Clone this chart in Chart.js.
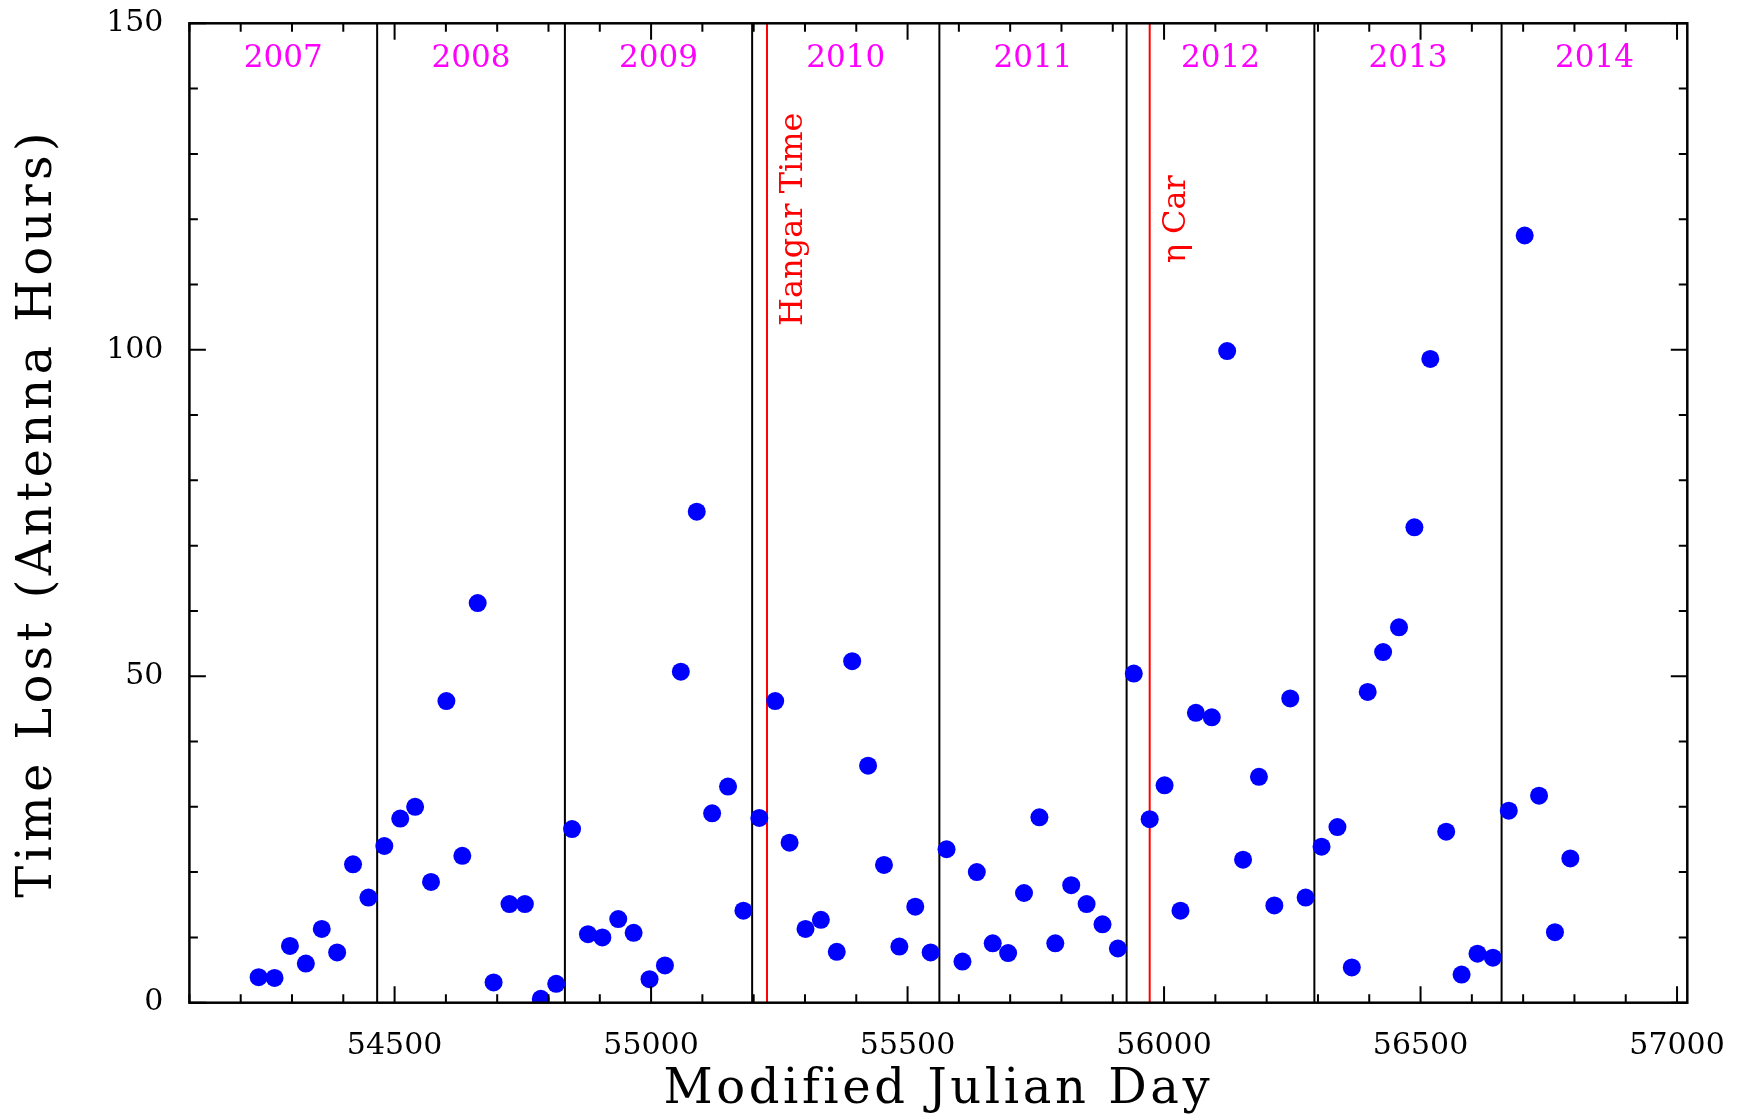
<!DOCTYPE html>
<html lang="en">

<head>
    <meta charset="UTF-8">
    <title>Time Lost (Antenna Hours)</title>
    <style>
        body {
            margin: 0;
            background: white;
            overflow: hidden;
        }

        .chart-container {
            width: 1737px;
            height: 1116px;
        }
    </style>
</head>

<body>
    <div class="chart-container">
        <canvas id="lossChart"></canvas>
    </div>

    <script src="https://cdn.jsdelivr.net/npm/chart.js"></script>
    <script>
        // one point per month, placed at the middle of the month (MJD)
        const mjd = [
            54235, 54266, 54296, 54327, 54358, 54388, 54419, 54449,
            54480, 54511, 54540, 54571, 54601, 54632, 54662, 54693, 54724, 54754, 54785, 54815,
            54846, 54877, 54905, 54936, 54966, 54997, 55027, 55058, 55089, 55119, 55150, 55180,
            55211, 55242, 55270, 55301, 55331, 55362, 55392, 55423, 55454, 55484, 55515, 55545,
            55576, 55607, 55635, 55666, 55696, 55727, 55757, 55788, 55819, 55849, 55880, 55910,
            55941, 55972, 56001, 56032, 56062, 56093, 56123, 56154, 56185, 56215, 56246, 56276,
            56307, 56338, 56366, 56397, 56427, 56458, 56488, 56519, 56550, 56580, 56611, 56641,
            56672, 56703, 56731, 56762, 56792
        ];
        const hoursLost = [
            3.9, 3.8, 8.7, 6.0, 11.3, 7.7, 21.2, 16.1,
            24.0, 28.2, 30.0, 18.5, 46.2, 22.5, 61.2, 3.1, 15.1, 15.1, 0.6, 2.9,
            26.6, 10.5, 10.0, 12.8, 10.7, 3.6, 5.7, 50.7, 75.2, 29.0, 33.1, 14.1,
            28.3, 46.2, 24.5, 11.3, 12.7, 7.8, 52.3, 36.3, 21.1, 8.6, 14.7, 7.7,
            23.5, 6.3, 20.0, 9.1, 7.6, 16.8, 28.4, 9.1, 18.0, 15.1, 12.0, 8.3,
            50.4, 28.1, 33.3, 14.1, 44.4, 43.7, 99.8, 21.9, 34.6, 14.9, 46.6, 16.1,
            23.9, 26.9, 5.4, 47.6, 53.7, 57.5, 72.8, 98.6, 26.2, 4.3, 7.5, 6.9,
            29.4, 117.5, 31.7, 10.8, 22.1
        ];

        // Jan 1 of 2008..2014
        const yearStarts = [54466, 54832, 55197, 55562, 55927, 56293, 56658];
        const yearLabels = ['2007', '2008', '2009', '2010', '2011', '2012', '2013', '2014'];

        const eventDays = [55226, 55972];
        const eventLabels = ['Hangar Time', 'η Car'];

        const xTickLabels = [54500, 55000, 55500, 56000, 56500, 57000];
        const yTickLabels = [0, 50, 100, 150];

        const serif = "'DejaVu Serif', serif";

        // wider letter spacing for the axis titles (closer to the original plot font)
        const titleSpacing = {
            id: 'titleSpacing',
            beforeDraw(chart) {
                Object.values(chart.scales).forEach(s => {
                    if (s._spaced) return;
                    const orig = s.drawTitle;
                    const gap = s.axis === 'x' ? '3.6px' : '4.3px';
                    s.drawTitle = function () {
                        this.ctx.save();
                        this.ctx.letterSpacing = gap;
                        orig.apply(this, arguments);
                        this.ctx.restore();
                    };
                    s._spaced = true;
                });
            }
        };

        // year separators, event lines and their labels
        const markers = {
            id: 'markers',
            beforeDatasetsDraw(chart) {
                const { ctx, chartArea: a, scales: { x, y } } = chart;
                ctx.save();
                ctx.beginPath();
                ctx.rect(a.left, a.top, a.right - a.left, a.bottom - a.top);
                ctx.clip();

                ctx.strokeStyle = 'black';
                ctx.lineWidth = 2;
                yearStarts.forEach(d => {
                    const px = x.getPixelForValue(d);
                    ctx.beginPath();
                    ctx.moveTo(px, a.top);
                    ctx.lineTo(px, a.bottom);
                    ctx.stroke();
                });

                ctx.strokeStyle = '#ff0000';
                eventDays.forEach(d => {
                    const px = x.getPixelForValue(d);
                    ctx.beginPath();
                    ctx.moveTo(px, a.top);
                    ctx.lineTo(px, a.bottom);
                    ctx.stroke();
                });

                // year names centred in each year
                const bounds = [x.min, ...yearStarts, x.max];
                ctx.fillStyle = '#ff00ff';
                ctx.font = `31px ${serif}`;
                ctx.textAlign = 'center';
                ctx.textBaseline = 'middle';
                yearLabels.forEach((lbl, i) => {
                    const cx = (x.getPixelForValue(bounds[i]) + x.getPixelForValue(bounds[i + 1])) / 2;
                    ctx.fillText(lbl, cx, y.getPixelForValue(144.6));
                });

                // rotated event labels
                ctx.fillStyle = '#ff0000';
                ctx.font = `32px ${serif}`;
                ctx.textBaseline = 'alphabetic';
                eventDays.forEach((d, i) => {
                    ctx.save();
                    ctx.translate(x.getPixelForValue(d) + 35, y.getPixelForValue(120));
                    ctx.rotate(-Math.PI / 2);
                    ctx.fillText(eventLabels[i], 0, 0);
                    ctx.restore();
                });
                ctx.restore();
            },
            // box with inward ticks on all four sides
            afterDatasetsDraw(chart) {
                const { ctx, chartArea: a, scales: { x, y } } = chart;
                ctx.save();
                ctx.strokeStyle = 'black';
                ctx.lineWidth = 2;
                x.ticks.forEach(t => {
                    const px = x.getPixelForValue(t.value);
                    const len = t.label ? 16.5 : 8.5;
                    ctx.beginPath();
                    ctx.moveTo(px, a.bottom);
                    ctx.lineTo(px, a.bottom - len);
                    ctx.moveTo(px, a.top);
                    ctx.lineTo(px, a.top + len);
                    ctx.stroke();
                });
                y.ticks.forEach(t => {
                    const py = y.getPixelForValue(t.value);
                    const len = t.label ? 16.5 : 8.5;
                    ctx.beginPath();
                    ctx.moveTo(a.left, py);
                    ctx.lineTo(a.left + len, py);
                    ctx.moveTo(a.right, py);
                    ctx.lineTo(a.right - len, py);
                    ctx.stroke();
                });
                ctx.lineWidth = 2.5;
                ctx.strokeRect(a.left, a.top, a.right - a.left, a.bottom - a.top);
                ctx.restore();
            }
        };

        const ctx = document.getElementById('lossChart').getContext('2d');
        new Chart(ctx, {
            type: 'scatter',
            data: {
                datasets: [{
                    label: 'Time lost',
                    data: mjd.map((d, i) => ({ x: d, y: hoursLost[i] })),
                    backgroundColor: '#0000ff',
                    borderWidth: 0,
                    pointRadius: 9,
                    pointHoverRadius: 9
                }]
            },
            options: {
                responsive: true,
                maintainAspectRatio: false,
                animation: false,
                layout: {
                    padding: { left: 4, right: 49.7, top: 23.3, bottom: 0 }
                },
                plugins: {
                    legend: { display: false },
                    tooltip: { enabled: false }
                },
                scales: {
                    x: {
                        type: 'linear',
                        min: 54100,
                        max: 57020,
                        grid: { display: false },
                        border: { display: false },
                        afterFit: s => {
                            s.height = 113.3;
                            s.paddingLeft = 0;
                            s.paddingRight = 0;
                        },
                        ticks: {
                            stepSize: 100,
                            includeBounds: false,
                            autoSkip: false,
                            maxRotation: 0,
                            minRotation: 0,
                            padding: 18,
                            color: 'black',
                            font: { family: serif, size: 30 },
                            callback: v => xTickLabels.includes(v) ? String(v) : ''
                        },
                        title: {
                            display: true,
                            text: 'Modified Julian Day',
                            color: 'black',
                            font: { family: serif, size: 48 },
                            padding: { top: 0, bottom: -3.5 }
                        }
                    },
                    y: {
                        min: 0,
                        max: 150,
                        grid: { display: false },
                        border: { display: false },
                        afterFit: s => {
                            s.width = 185.4;
                            s.paddingTop = 0;
                            s.paddingBottom = 0;
                        },
                        ticks: {
                            stepSize: 10,
                            autoSkip: false,
                            padding: 18,
                            color: 'black',
                            font: { family: serif, size: 30 },
                            callback: v => yTickLabels.includes(v) ? String(v) : ''
                        },
                        title: {
                            display: true,
                            text: 'Time Lost (Antenna Hours)',
                            color: 'black',
                            font: { family: serif, size: 48 },
                            padding: { top: 6.2, bottom: 47.6 }
                        }
                    }
                }
            },
            plugins: [titleSpacing, markers]
        });
    </script>
</body>

</html>
